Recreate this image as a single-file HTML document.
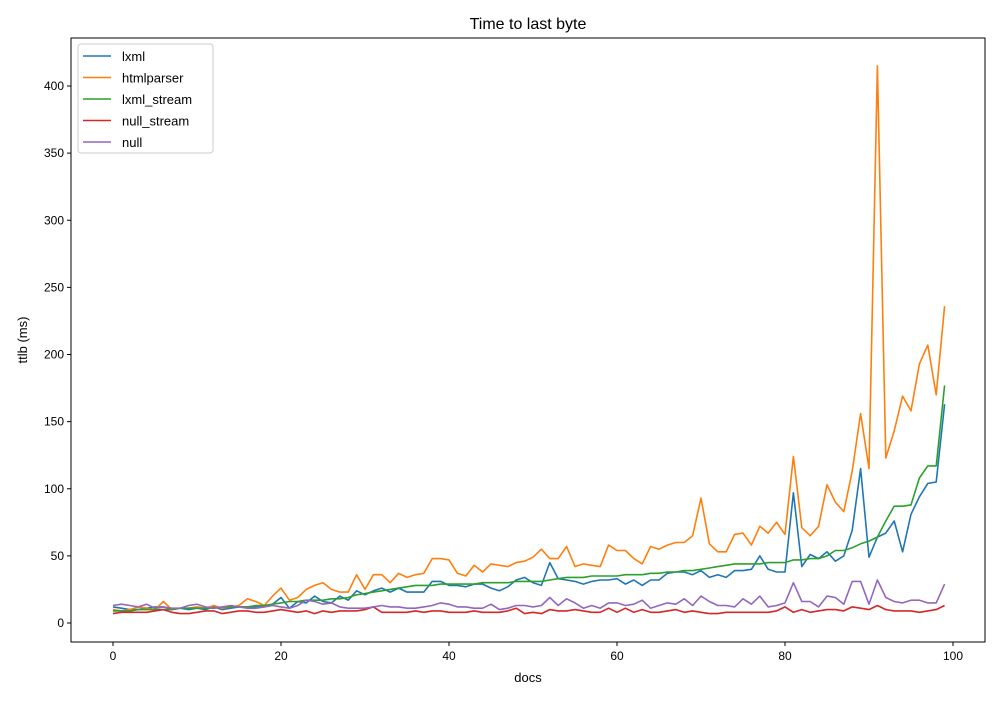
<!DOCTYPE html>
<html><head><meta charset="utf-8"><style>
body{margin:0;background:#fff;font-family:"Liberation Sans","DejaVu Sans",sans-serif}
svg text{font-family:"Liberation Sans","DejaVu Sans",sans-serif;fill:#000}
</style></head><body>
<svg id="chart" width="1000" height="700">
<rect x="0" y="0" width="1000" height="700" fill="#fff"/>
<text x="528" y="29" font-size="16" text-anchor="middle">Time to last byte</text>
<g id="plot"></g>
<rect x="71" y="38" width="914" height="604" fill="none" stroke="#000" stroke-width="1"/>
<text x="528" y="682" font-size="13" text-anchor="middle">docs</text>
<text x="27" y="340" font-size="13" text-anchor="middle" transform="rotate(-90 27 340)">ttlb (ms)</text>
<g id="legend"></g>
</svg>
<script>
const xTicks=[0,20,40,60,80,100];
const yTicks=[0,50,100,150,200,250,300,350,400];
const seriesNames=["lxml","htmlparser","lxml_stream","null_stream","null"];
const seriesColors=["#1f77b4","#ff7f0e","#2ca02c","#d62728","#9467bd"];
const lxml=[12,11,10,10,11,12,12,10,11,10,11,10,12,10,11,12,12,12,12,14,19,11,16,15,20,16,15,20,17,24,21,24,26,23,26,23,23,23,31,31,28,28,27,29,29,26,24,27,32,34,30,28,45,33,32,31,29,31,32,32,33,29,32,28,32,32,37,38,38,36,39,34,36,34,39,39,40,50,40,38,38,97,42,51,48,53,46,50,69,115,49,64,67,76,53,81,94,104,105,163];
const htmlparser=[10,9,10,12,11,10,16,10,11,11,12,11,13,11,12,13,18,16,13,20,26,17,19,25,28,30,25,23,23,36,25,36,36,30,37,34,36,37,48,48,47,37,35,43,38,44,43,42,45,46,49,55,48,48,57,42,44,43,42,58,54,54,48,44,57,55,58,60,60,65,93,59,53,53,66,67,58,72,67,75,66,124,71,65,72,103,90,83,113,156,115,415,123,143,169,158,193,207,170,236];
const lxml_stream=[9,9,9,10,10,10,10,10,11,11,11,11,11,12,12,12,12,13,13,14,15,16,16,17,17,17,18,18,19,21,22,23,24,25,26,27,28,28,28,29,29,29,29,29,30,30,30,30,31,31,31,31,32,33,34,34,34,35,35,35,35,36,36,36,37,37,38,38,39,39,40,41,42,43,44,44,44,44,45,45,45,47,47,48,48,50,54,54,56,59,61,64,76,87,87,88,108,117,117,177];
const null_stream=[7,8,8,8,8,9,10,8,7,7,8,9,9,7,8,9,9,8,8,9,10,9,8,9,7,9,8,9,9,9,10,12,8,8,8,8,9,8,9,9,8,8,8,9,8,8,8,9,11,7,8,7,10,9,9,10,9,8,8,11,8,11,8,10,8,8,9,10,8,9,8,7,7,8,8,8,8,8,8,9,12,8,10,8,9,10,10,9,12,11,10,13,10,9,9,9,8,9,10,13];
const nul=[13,14,13,12,14,11,12,11,11,13,14,12,11,12,13,12,11,11,12,13,12,11,13,17,16,14,15,12,11,11,11,12,13,12,12,11,11,12,13,15,14,12,12,11,11,14,10,11,13,13,12,13,19,13,18,15,11,13,11,15,15,13,14,17,11,13,15,14,18,13,20,16,13,13,12,18,14,20,12,13,15,30,16,16,12,20,19,14,31,31,14,32,19,16,15,17,17,15,15,29];
const allSeries=[lxml,htmlparser,lxml_stream,null_stream,nul];
const X0=71,X1=985,Y0=642,Y1=38;
function sx(v){return 113+v*8.4;}
function sy(v){return 623-v*1.3425;}
const ns="http://www.w3.org/2000/svg";
const plot=document.getElementById('plot');
function mk(t,a,p){const e=document.createElementNS(ns,t);for(const k in a)e.setAttribute(k,a[k]);(p||plot).appendChild(e);return e;}
xTicks.forEach(t=>{const x=sx(t);
 const l=mk('line',{x1:x,x2:x,y1:Y0,y2:Y0+4,stroke:'#000'});
 
 
 const tx=mk('text',{x:x,y:Y0+18,'font-size':12,'text-anchor':'middle'});tx.textContent=t;
 
 });
yTicks.forEach(t=>{const y=sy(t);
 const l=mk('line',{x1:X0-4,x2:X0,y1:y,y2:y,stroke:'#000'});
 
 
 const tx=mk('text',{x:X0-7,y:y+4,'font-size':12,'text-anchor':'end'});tx.textContent=t;
 
 });
allSeries.forEach((s,i)=>{const pts=s.map((v,j)=>sx(j).toFixed(1)+','+sy(v).toFixed(1)).join(' ');
 const p=mk('polyline',{points:pts,fill:'none',stroke:seriesColors[i],'stroke-width':1.6,'stroke-linejoin':'round'});
 
 });
const lg=document.getElementById('legend');
mk('rect',{x:78,y:44,width:135,height:109,rx:3,fill:'#fff',stroke:'#ccc'},lg);
seriesNames.forEach((n,i)=>{const y=56+i*21.5;
 const l=mk('line',{x1:83,x2:111,y1:y,y2:y,stroke:seriesColors[i],'stroke-width':1.6},lg);
 
 
 const t=mk('text',{x:122,y:y+5,'font-size':13},lg);t.textContent=n;
 
 });
</script>
</body></html>
